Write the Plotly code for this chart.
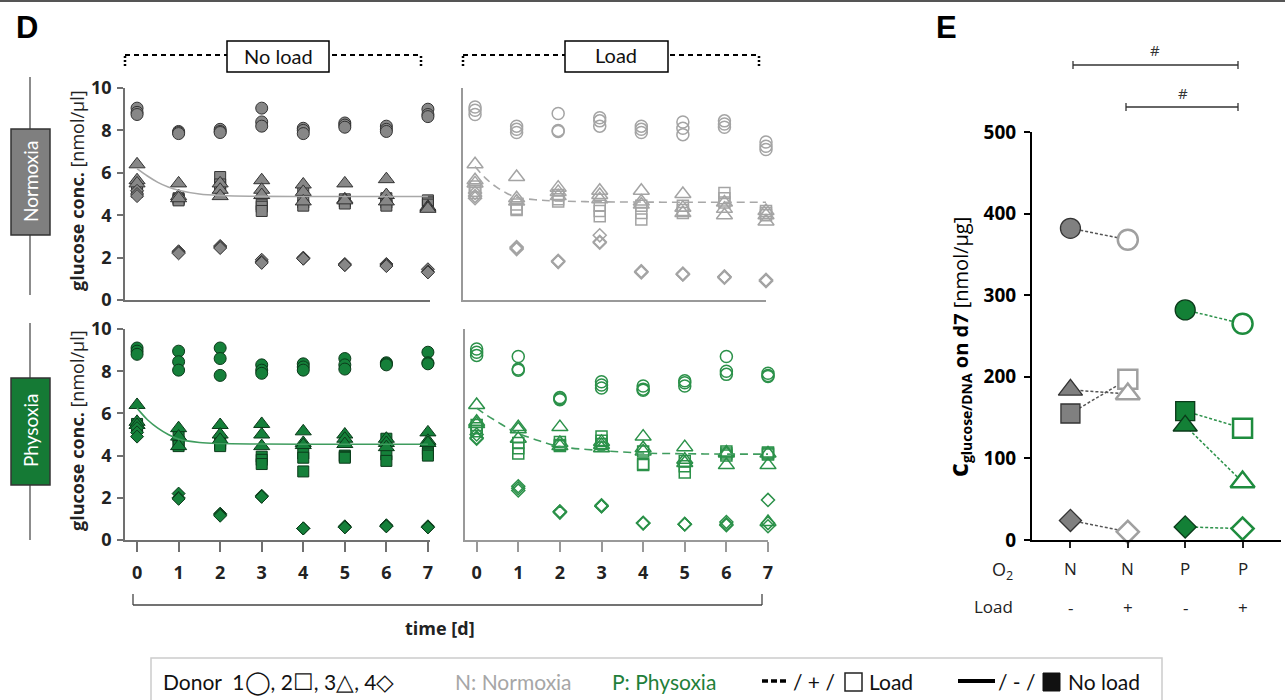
import plotly.graph_objects as go

W, H = 1285, 700
def px(x): return x / W
def py(y): return 1 - y / H

# ---------------- data (panel D) ----------------
days = [0, 1, 2, 3, 4, 5, 6, 7]

# Normoxia, no load (filled grey)
NN_donor1 = [[9.05, 8.85, 8.75], [7.95, 7.9, 7.85], [8.05, 7.95, 7.9], [9.05, 8.4, 8.2], [8.1, 8.0, 7.85], [8.35, 8.25, 8.15], [8.2, 8.05, 7.95], [9.0, 8.75, 8.65]]
NN_donor2 = [[5.3, 5.15, 5.1], [4.8, 4.75, 4.7], [5.8, 5.45, 5.3], [4.5, 4.4, 4.2], [5.1, 4.6, 4.45], [4.75, 4.65, 4.55], [4.8, 4.6, 4.45], [4.7, 4.6, 4.5]]
NN_donor3 = [[6.4, 5.65, 5.5], [5.5, 4.9, 4.8], [5.5, 5.2, 4.9], [5.65, 5.2, 4.95], [5.45, 5.1, 4.65], [5.5, 4.75, 4.7], [5.7, 4.95, 4.65], [4.4, 4.35, 4.3]]
NN_donor4 = [[5.15, 5.0, 4.9], [2.3, 2.25, 2.2], [2.55, 2.5, 2.45], [1.9, 1.8, 1.75], [2.0, 1.95, 1.95], [1.7, 1.65, 1.65], [1.7, 1.65, 1.6], [1.45, 1.35, 1.3]]

# Normoxia, load (open grey)
NL_donor1 = [[9.1, 8.95, 8.75], [8.2, 8.05, 7.9], [8.8, 8.0, 7.95], [8.6, 8.45, 8.2], [8.2, 8.05, 7.9], [8.4, 8.1, 7.8], [8.45, 8.3, 8.15], [7.45, 7.25, 7.1]]
NL_donor2 = [[5.35, 5.15, 5.05], [4.5, 4.3, 4.25], [4.95, 4.75, 4.65], [4.45, 4.2, 3.95], [4.45, 4.1, 3.8], [4.45, 4.25, 4.1], [5.05, 4.8, 4.6], [4.2, 4.1, 4.0]]
NL_donor3 = [[6.4, 5.65, 5.5], [5.8, 4.8, 4.65], [5.3, 5.1, 4.9], [5.15, 4.95, 4.75], [5.15, 4.65, 4.5], [5.0, 4.35, 4.1], [4.6, 4.3, 4.0], [4.2, 4.0, 3.7]]
NL_donor4 = [[5.05, 4.9, 4.8], [2.5, 2.45, 2.4], [1.85, 1.8, 1.8], [3.05, 2.75, 2.7], [1.35, 1.35, 1.3], [1.25, 1.2, 1.2], [1.1, 1.1, 1.05], [0.95, 0.9, 0.9]]

# Physoxia, no load (filled green)
PN_donor1 = [[9.1, 8.95, 8.8], [8.95, 8.45, 8.05], [9.1, 8.6, 7.8], [8.3, 8.05, 7.9], [8.35, 8.2, 8.05], [8.6, 8.3, 8.1], [8.4, 8.35, 8.3], [8.9, 8.4, 8.35]]
PN_donor2 = [[5.5, 5.4, 5.3], [4.9, 4.65, 4.45], [4.7, 4.55, 4.45], [3.95, 3.8, 3.6], [4.1, 3.9, 3.25], [4.0, 3.95, 3.9], [4.8, 4.05, 3.75], [4.3, 4.1, 4.0]]
PN_donor3 = [[6.4, 5.6, 5.45], [5.3, 4.9, 4.45], [5.45, 5.0, 4.75], [5.5, 5.0, 4.45], [5.15, 4.6, 4.5], [5.0, 4.8, 4.55], [4.8, 4.6, 4.4], [5.1, 4.7, 4.6]]
PN_donor4 = [[5.3, 5.1, 4.9], [2.2, 2.0, 1.95], [1.25, 1.2, 1.15], [2.1, 2.05, 2.05], [0.55, 0.55, 0.55], [0.65, 0.6, 0.6], [0.7, 0.65, 0.65], [0.65, 0.6, 0.6]]

# Physoxia, load (open green)
PL_donor1 = [[9.05, 8.9, 8.75], [8.7, 8.1, 8.05], [6.75, 6.7, 6.65], [7.5, 7.35, 7.2], [7.3, 7.15, 7.1], [7.55, 7.45, 7.3], [8.7, 8.0, 7.85], [7.9, 7.8, 7.75]]
PL_donor2 = [[5.45, 5.3, 5.15], [4.6, 4.35, 4.1], [4.65, 4.5, 4.45], [4.9, 4.7, 4.55], [4.2, 3.6, 3.55], [3.75, 3.5, 3.2], [4.2, 4.1, 4.0], [4.15, 4.1, 4.05]]
PL_donor3 = [[6.4, 5.6, 5.5], [5.35, 5.25, 4.8], [5.35, 4.6, 4.45], [4.65, 4.5, 4.35], [4.9, 4.35, 4.2], [4.4, 3.8, 3.65], [4.15, 4.1, 3.55], [4.1, 3.55, 0.85]]
PL_donor4 = [[5.0, 4.85, 4.8], [2.55, 2.45, 2.35], [1.35, 1.35, 1.3], [1.65, 1.6, 1.6], [0.8, 0.8, 0.8], [0.75, 0.75, 0.75], [0.85, 0.75, 0.7], [1.9, 0.8, 0.65]]

# fitted curves
fit_t = [0, 0.25, 0.5, 0.75, 1, 1.5, 2, 3, 4, 5, 6, 7]
fit_NN = [6.2, 5.85, 5.55, 5.33, 5.18, 5.0, 4.93, 4.89, 4.88, 4.88, 4.88, 4.88]
fit_NL = [6.3, 5.75, 5.35, 5.05, 4.85, 4.72, 4.67, 4.63, 4.62, 4.61, 4.61, 4.61]
fit_PN = [6.25, 5.7, 5.3, 5.0, 4.78, 4.62, 4.57, 4.55, 4.54, 4.54, 4.54, 4.54]
fit_PL = [6.25, 5.9, 5.6, 5.3, 5.06, 4.7, 4.43, 4.24, 4.12, 4.09, 4.07, 4.07]

# ---------------- data (panel E) ----------------
E_o2 = ["N", "N", "P", "P"]
E_load = ["-", "+", "-", "+"]
E_donor1 = [382, 368, 282, 265]
E_donor2 = [155, 197, 158, 137]
E_donor3 = [184, 179, 140, 71]
E_donor4 = [24, 10, 16, 14]

# ---------------- styles ----------------
GREY_FILL, GREY_EDGE, GREY_OPEN = '#878787', '#333333', '#a4a4a4'
GREEN_FILL, GREEN_EDGE, GREEN_OPEN = '#15803a', '#0b3a1a', '#2b9149'
FONT = 'Open Sans'
SOFT = 'Lato'

fig = go.Figure()

def add_points(data, symbol, size, color, edge, width, xa, ya):
    xs, ys = [], []
    for d, vals in zip(days, data):
        for v in vals:
            xs.append(d)
            ys.append(v)
    fig.add_trace(go.Scatter(
        x=xs, y=ys, mode='markers', xaxis=xa, yaxis=ya, cliponaxis=False,
        marker=dict(symbol=symbol, size=size, color=color, line=dict(color=edge, width=width)),
        showlegend=False, hoverinfo='skip'))

def add_fit(yvals, color, dash, xa, ya):
    fig.add_trace(go.Scatter(
        x=fit_t, y=yvals, mode='lines', xaxis=xa, yaxis=ya, line_shape='spline',
        line=dict(color=color, width=1.6, dash=dash), showlegend=False, hoverinfo='skip'))

sym_filled = ['circle', 'square', 'triangle-up', 'diamond']
sym_open = ['circle-open', 'square-open', 'triangle-up-open', 'diamond-open']
sizes = [12, 11, 14, 10]

for data, s, sz in zip([NN_donor1, NN_donor2, NN_donor3, NN_donor4], sym_filled, sizes):
    add_points(data, s, sz, GREY_FILL, GREY_EDGE, 1, 'x', 'y')
add_fit(fit_NN, '#a8a8a8', 'solid', 'x', 'y')
for data, s, sz in zip([NL_donor1, NL_donor2, NL_donor3, NL_donor4], sym_open, sizes):
    add_points(data, s, sz, GREY_OPEN, GREY_OPEN, 1.5, 'x2', 'y2')
add_fit(fit_NL, '#a8a8a8', '8px,5px', 'x2', 'y2')
for data, s, sz in zip([PN_donor1, PN_donor2, PN_donor3, PN_donor4], sym_filled, sizes):
    add_points(data, s, sz, GREEN_FILL, GREEN_EDGE, 1, 'x3', 'y3')
add_fit(fit_PN, '#3f9c5e', 'solid', 'x3', 'y3')
for data, s, sz in zip([PL_donor1, PL_donor2, PL_donor3, PL_donor4], sym_open, sizes):
    add_points(data, s, sz, GREEN_OPEN, GREEN_OPEN, 1.5, 'x4', 'y4')
add_fit(fit_PL, '#3f9c5e', '8px,5px', 'x4', 'y4')

# panel E connectors + markers
E_sizes = [20, 19, 21, 17]
for vals in [E_donor1, E_donor2, E_donor3, E_donor4]:
    fig.add_trace(go.Scatter(x=[0, 1], y=vals[0:2], mode='lines', xaxis='x5', yaxis='y5',
                             line=dict(color='#555555', width=1.5, dash='3px,2px'),
                             showlegend=False, hoverinfo='skip'))
    fig.add_trace(go.Scatter(x=[2, 3], y=vals[2:4], mode='lines', xaxis='x5', yaxis='y5',
                             line=dict(color='#2b9149', width=1.5, dash='3px,2px'),
                             showlegend=False, hoverinfo='skip'))
for vals, sf, sz in zip([E_donor1, E_donor2, E_donor3, E_donor4], sym_filled, E_sizes):
    styles = [('#808080', '#333333', 1.3), ('white', '#a0a0a0', 2.5),
              ('#138036', '#0b3a1a', 1.3), ('white', '#1e8c3e', 2.5)]
    for i, (fc, lc, lw) in enumerate(styles):
        fig.add_trace(go.Scatter(x=[i], y=[vals[i]], mode='markers', xaxis='x5', yaxis='y5', cliponaxis=False,
                                 marker=dict(symbol=sf, size=sz, color=fc, line=dict(color=lc, width=lw)),
                                 showlegend=False, hoverinfo='skip'))

AX = '#707070'
tickfont_b = dict(family=FONT, size=18, color='#222222', weight='bold')

def xax(dom, rng, color, ticks):
    d = dict(domain=[px(dom[0]), px(dom[1])], range=rng, showline=True, linecolor=color, linewidth=1.5,
             showgrid=False, zeroline=False, fixedrange=True)
    if ticks:
        d.update(tickvals=days, ticks='outside', ticklen=10, tickcolor=color, tickwidth=1.5,
                 tickfont=tickfont_b, ticklabelstandoff=6)
    else:
        d.update(showticklabels=False, ticks='')
    return d

def yax(dom, color, labels):
    d = dict(domain=[py(dom[1]), py(dom[0])], range=[0, 10], showline=True, linecolor=color, linewidth=1.5,
             showgrid=False, zeroline=False, fixedrange=True)
    if labels:
        d.update(tickvals=[0, 2, 4, 6, 8, 10], ticks='outside', ticklen=6, tickcolor=color, tickwidth=1.5,
                 tickfont=tickfont_b, ticklabelstandoff=2)
    else:
        d.update(showticklabels=False, ticks='')
    return d

fig.update_layout(
    width=W, height=H, margin=dict(l=0, r=0, t=0, b=0, pad=0, autoexpand=False),
    paper_bgcolor='white', plot_bgcolor='white',
    font=dict(family=FONT, color='#222222'),
    xaxis=dict(xax((125, 430), [-0.29, 7.05], AX, False), anchor='y'),
    yaxis=dict(yax((88, 300), AX, True), anchor='x'),
    xaxis2=dict(xax((463, 766), [-0.29, 7.0], '#999999', False), anchor='y2'),
    yaxis2=dict(yax((88, 300), '#999999', False), anchor='x2'),
    xaxis3=dict(xax((125, 430), [-0.29, 7.05], AX, True), anchor='y3'),
    yaxis3=dict(yax((329, 540), AX, True), anchor='x3'),
    xaxis4=dict(xax((465, 768), [-0.28, 7.0], '#999999', True), anchor='y4'),
    yaxis4=dict(yax((329, 540), '#999999', False), anchor='x4'),
    xaxis5=dict(domain=[px(1032), px(1281)], range=[-0.67, 3.67], showline=True, linecolor='black', linewidth=2,
                tickvals=[0, 1, 2, 3], showticklabels=False, ticks='outside', ticklen=6, tickwidth=2,
                tickcolor='#222222', showgrid=False, zeroline=False, anchor='y5', fixedrange=True),
    yaxis5=dict(domain=[py(540), py(132)], range=[0, 500], tickvals=[0, 100, 200, 300, 400, 500],
                showline=True, linecolor='black', linewidth=2, ticks='outside', ticklen=6, tickwidth=2,
                tickcolor='black', tickfont=dict(family=FONT, size=19, color='black', weight='bold'),
                ticklabelstandoff=4, showgrid=False, zeroline=False, anchor='x5', fixedrange=True),
)

shapes = []
def line(x0, y0, x1, y1, color='black', width=1.5, dash='solid'):
    shapes.append(dict(type='line', xref='paper', yref='paper', x0=px(x0), y0=py(y0), x1=px(x1), y1=py(y1),
                       line=dict(color=color, width=width, dash=dash)))
def rect(x0, y0, x1, y1, fill, color='black', width=1.5):
    shapes.append(dict(type='rect', xref='paper', yref='paper', x0=px(x0), y0=py(y0), x1=px(x1), y1=py(y1),
                       fillcolor=fill, line=dict(color=color, width=width)))

line(0, 1, W, 1, '#555555', 2)
line(30, 77, 30, 295, '#666666', 1.5)
rect(11, 129, 50, 235, '#7f7f7f', '#333333', 1.5)
line(30, 323, 30, 540, '#666666', 1.5)
rect(11, 378, 50, 485, '#157a35', '#333333', 1.5)
for (a, b, bx0, bx1) in [(125, 421, 227, 329), (463, 759, 565, 668)]:
    line(a, 55, b, 55, 'black', 2, '5px,4px')
    line(a, 56, a, 67, 'black', 2.5, '2px,2px')
    line(b, 56, b, 67, 'black', 2.5, '2px,2px')
    rect(bx0, 41, bx1, 72, 'white', 'black', 1.5)
line(133, 605, 762, 605, '#444444', 1.3)
line(133, 594, 133, 605, '#444444', 1.3)
line(762, 594, 762, 605, '#444444', 1.3)
for (a, b, y) in [(1073, 1238, 65), (1126, 1238, 107)]:
    line(a, y, b, y, '#333333', 1.3)
    line(a, y - 4, a, y + 4, '#333333', 1.3)
    line(b, y - 4, b, y + 4, '#333333', 1.3)
# legend frame and its line / box keys
rect(151, 658, 1162, 703, 'rgba(0,0,0,0)', '#cccccc', 1.5)
line(762, 681, 788, 681, 'black', 3.5, '6px,3px')
rect(845, 673, 862, 691, 'white', '#222222', 1.5)
line(958, 681, 995, 681, 'black', 4)
rect(1043, 673, 1060, 691, '#111111', '#111111', 1)
fig.update_layout(shapes=shapes)

ann = []
def text(x, y, s, size=17, color='#222222', xanchor='center', angle=0, family=FONT):
    ann.append(dict(xref='paper', yref='paper', x=px(x), y=py(y), text=s, showarrow=False,
                    xanchor=xanchor, yanchor='middle', textangle=angle,
                    font=dict(family=family, size=size, color=color)))

BIG = '<span style="font-size:23px">{}</span>'
text(14, 27, '<b>D</b>', 31, 'black', 'left', family='Liberation Sans')
text(934, 27, '<b>E</b>', 31, 'black', 'left', family='Liberation Sans')
text(278, 56, 'No load', 20, '#111111', family=SOFT)
text(616, 55, 'Load', 20, '#111111', family=SOFT)
text(30, 182, 'Normoxia', 19, 'white', angle=-90, family=SOFT)
text(30, 431, 'Physoxia', 19, 'white', angle=-90, family=SOFT)
text(77, 191, '<b>glucose conc.</b> [nmol/µl]', 18, '#222222', angle=-90)
text(77, 431, '<b>glucose conc.</b> [nmol/µl]', 18, '#222222', angle=-90)
text(440, 628, '<b>time [d]</b>', 18, '#222222')
text(957, 347, '<b><span style="font-size:27px">c</span><sub>glucose/DNA</sub> on d7</b> [nmol/µg]', 20, 'black', angle=-90)
for i, (o, l) in enumerate(zip(E_o2, E_load)):
    ann.append(dict(xref='x5', yref='paper', x=i, y=py(568), text=o, showarrow=False, yanchor='middle',
                    font=dict(family=FONT, size=17, color='#222222')))
    ann.append(dict(xref='x5', yref='paper', x=i, y=py(607), text=l, showarrow=False, yanchor='middle',
                    font=dict(family=FONT, size=17, color='#222222')))
text(1015, 570, 'O<sub>2</sub>', 18, '#222222', 'right')
text(1015, 606, 'Load', 17, '#222222', 'right')
text(1155, 50, '#', 15, '#333333')
text(1183, 93, '#', 15, '#333333')
text(161, 681, 'Donor  1' + BIG.format('◯') + ', 2' + BIG.format('☐') + ', 3' + BIG.format('△') + ', 4' + BIG.format('◇'),
     21, '#111111', 'left', family=SOFT)
text(453, 681, 'N: Normoxia', 21, '#a6a6a6', 'left', family=SOFT)
text(610, 681, 'P: Physoxia', 21, '#1f7f3a', 'left', family=SOFT)
text(791, 681, '/ + /', 21, '#111111', 'left', family=SOFT)
text(867, 681, 'Load', 21, '#111111', 'left', family=SOFT)
text(996, 681, '/ - /', 21, '#111111', 'left', family=SOFT)
text(1066, 681, 'No load', 21, '#111111', 'left', family=SOFT)
fig.update_layout(annotations=ann)

fig.write_html('out.html', config={'displayModeBar': False},
               post_script="document.body.style.margin='0';document.body.style.overflow='hidden';")
